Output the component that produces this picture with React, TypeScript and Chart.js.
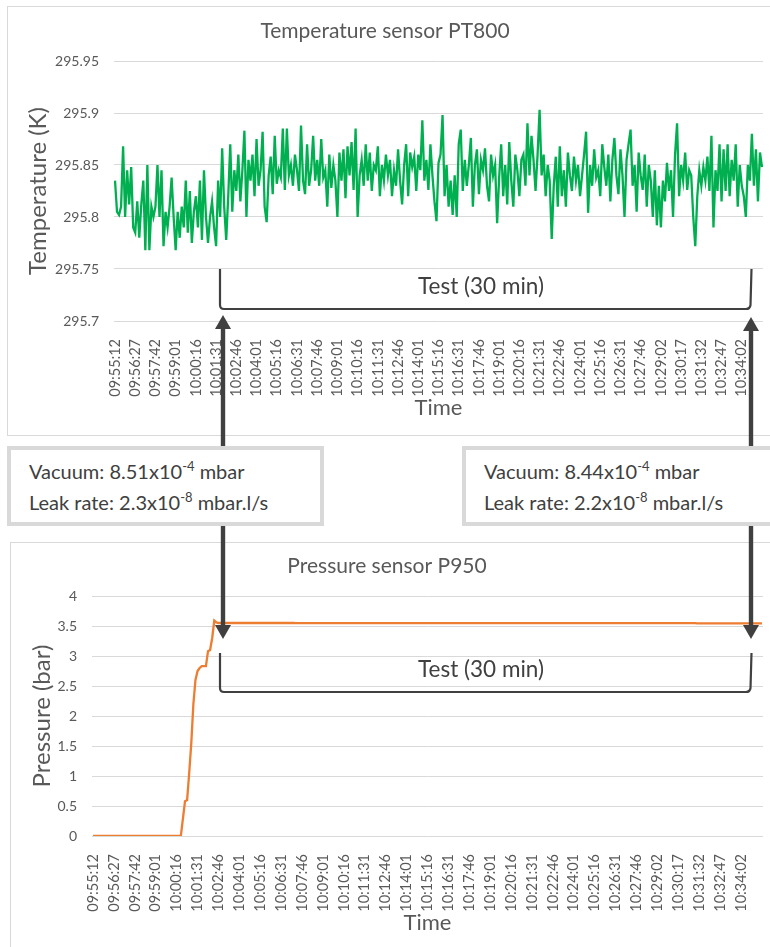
import React, { useEffect, useRef } from "react";
import { Chart, registerables } from "chart.js";

Chart.register(...registerables);

// ---------------- DATA ----------------
const timeLabels = [
  "09:55:12", "09:56:27", "09:57:42", "09:59:01", "10:00:16", "10:01:31", "10:02:46", "10:04:01",
  "10:05:16", "10:06:31", "10:07:46", "10:09:01", "10:10:16", "10:11:31", "10:12:46", "10:14:01",
  "10:15:16", "10:16:31", "10:17:46", "10:19:01", "10:20:16", "10:21:31", "10:22:46", "10:24:01",
  "10:25:16", "10:26:31", "10:27:46", "10:29:02", "10:30:17", "10:31:32", "10:32:47", "10:34:02",
];
const samplesPerLabel = 10;

const temperatureK = [
  295.835, 295.805, 295.802, 295.81, 295.868, 295.80, 295.845, 295.812, 295.848, 295.79,
  295.785, 295.815, 295.78, 295.812, 295.835, 295.768, 295.85, 295.768, 295.81, 295.80,
  295.81, 295.85, 295.80, 295.845, 295.772, 295.805, 295.79, 295.81, 295.838, 295.80,
  295.768, 295.805, 295.78, 295.81, 295.79, 295.835, 295.785, 295.825, 295.775, 295.805,
  295.82, 295.79, 295.835, 295.778, 295.845, 295.80, 295.775, 295.80, 295.815, 295.79,
  295.772, 295.835, 295.80, 295.866, 295.81, 295.778, 295.82, 295.87, 295.805, 295.845,
  295.825, 295.86, 295.815, 295.845, 295.883, 295.80, 295.855, 295.835, 295.86, 295.82,
  295.875, 295.83, 295.845, 295.882, 295.81, 295.795, 295.84, 295.858, 295.822, 295.878,
  295.832, 295.845, 295.838, 295.885, 295.826, 295.885, 295.84, 295.85, 295.83, 295.86,
  295.845, 295.825, 295.888, 295.835, 295.822, 295.87, 295.83, 295.845, 295.878, 295.835,
  295.855, 295.83, 295.875, 295.838, 295.845, 295.81, 295.86, 295.828, 295.85, 295.835,
  295.80, 295.862, 295.835, 295.865, 295.818, 295.868, 295.84, 295.872, 295.826, 295.885,
  295.80, 295.84, 295.855, 295.83, 295.87, 295.835, 295.862, 295.825, 295.85, 295.845,
  295.868, 295.82, 295.85, 295.835, 295.86, 295.84, 295.855, 295.82, 295.845, 295.83,
  295.865, 295.835, 295.812, 295.85, 295.87, 295.82, 295.862, 295.848, 295.858, 295.825,
  295.86, 295.845, 295.893, 295.835, 295.855, 295.826, 295.87, 295.84, 295.815, 295.796,
  295.852, 295.86, 295.898, 295.82, 295.85, 295.81, 295.835, 295.802, 295.84, 295.80,
  295.87, 295.884, 295.825, 295.855, 295.83, 295.85, 295.876, 295.81, 295.85, 295.865,
  295.822, 295.855, 295.845, 295.866, 295.83, 295.815, 295.86, 295.84, 295.85, 295.794,
  295.838, 295.87, 295.82, 295.85, 295.812, 295.872, 295.835, 295.81, 295.86, 295.845,
  295.82, 295.855, 295.86, 295.83, 295.89, 295.84, 295.878, 295.855, 295.825, 295.86,
  295.903, 295.84, 295.86, 295.82, 295.85, 295.835, 295.779, 295.83, 295.858, 295.81,
  295.868, 295.82, 295.845, 295.81, 295.862, 295.84, 295.825, 295.858, 295.835, 295.85,
  295.82, 295.84, 295.86, 295.882, 295.804, 295.85, 295.83, 295.865, 295.838, 295.845,
  295.82, 295.87, 295.848, 295.83, 295.86, 295.815, 295.855, 295.876, 295.84, 295.822,
  295.865, 295.84, 295.80, 295.855, 295.87, 295.884, 295.83, 295.85, 295.805, 295.862,
  295.84, 295.826, 295.86, 295.81, 295.85, 295.835, 295.80, 295.845, 295.792, 295.83,
  295.79, 295.835, 295.815, 295.852, 295.825, 295.845, 295.80, 295.86, 295.89, 295.82,
  295.85, 295.835, 295.862, 295.826, 295.845, 295.84, 295.80, 295.772, 295.82, 295.845,
  295.83, 295.848, 295.835, 295.858, 295.825, 295.878, 295.79, 295.845, 295.825, 295.87,
  295.815, 295.865, 295.825, 295.87, 295.82, 295.855, 295.835, 295.87, 295.81, 295.85,
  295.83, 295.82, 295.80, 295.85, 295.835, 295.88, 295.83, 295.865, 295.815, 295.862, 295.848,
];
const temperatureTicks = [295.7, 295.75, 295.8, 295.85, 295.9, 295.95];

// pressure: sample index -> value (flat stretches given by their end samples)
const pressureSample = [0, 42, 44, 45, 46, 47, 48, 49, 50, 51, 52, 54, 55, 56, 57, 58, 59, 60, 96, 97, 288, 289, 320];
const pressureBar = [0, 0, 0.58, 0.6, 1.05, 1.55, 2.2, 2.6, 2.75, 2.8, 2.83, 2.83, 3.08, 3.1, 3.3, 3.59, 3.56, 3.55, 3.55, 3.548, 3.548, 3.545, 3.545];
const pressureTicks = [0, 0.5, 1, 1.5, 2, 2.5, 3, 3.5, 4];

// ---------------- STYLE ----------------
const FONT = "Lato, 'Open Sans', sans-serif";
const TXT = "#595959";
const DARK = "#404040";
const GRID = "#d9d9d9";

type ChartSpec = {
  title: string;
  yTitle: string;
  yMin: number;
  yMax: number;
  yTicks: number[];
  yWidth: number;
  xHeight: number;
  padBottom: number;
  titlePad: { top: number; bottom: number };
  data: { x: number; y: number }[];
  color: string;
  width: number;
  height: number;
};

function LineChart({ spec }: { spec: ChartSpec }) {
  const ref = useRef<HTMLCanvasElement | null>(null);
  useEffect(() => {
    if (!ref.current) return;
    const lastIdx = timeLabels.length * samplesPerLabel;
    const chart = new Chart(ref.current, {
      type: "line",
      data: {
        datasets: [
          {
            data: spec.data,
            borderColor: spec.color,
            borderWidth: 2.3,
            pointRadius: 0,
            tension: 0,
            fill: false,
          },
        ],
      },
      options: {
        animation: false,
        responsive: false,
        maintainAspectRatio: false,
        devicePixelRatio: 1,
        events: [],
        layout: { padding: { left: 0, right: 7, top: 0, bottom: spec.padBottom } },
        plugins: {
          legend: { display: false },
          tooltip: { enabled: false },
          title: {
            display: true,
            text: spec.title,
            color: TXT,
            font: { family: FONT, size: 21, weight: "normal" },
            padding: spec.titlePad,
          },
        },
        scales: {
          x: {
            type: "linear",
            min: -0.5,
            max: lastIdx + 0.5,
            grid: { display: false },
            border: { display: false },
            afterBuildTicks: (s: any) => {
              s.ticks = timeLabels.map((_, k) => ({ value: k * samplesPerLabel }));
            },
            afterFit: (s: any) => {
              s.height = spec.xHeight;
            },
            ticks: {
              autoSkip: false,
              minRotation: 90,
              maxRotation: 90,
              padding: 10,
              color: TXT,
              font: { family: FONT, size: 14.5 },
              callback: (v: any) => timeLabels[Math.round(Number(v) / samplesPerLabel)] ?? "",
            },
            title: {
              display: true,
              text: "Time",
              color: TXT,
              font: { family: FONT, size: 22 },
              padding: { top: 0, bottom: 0 },
            },
          },
          y: {
            type: "linear",
            min: spec.yMin,
            max: spec.yMax,
            afterBuildTicks: (s: any) => {
              s.ticks = spec.yTicks.map((v) => ({ value: v }));
            },
            afterFit: (s: any) => {
              s.width = spec.yWidth;
            },
            grid: { color: GRID, lineWidth: 1, drawTicks: false },
            border: { display: false },
            ticks: {
              padding: 15,
              color: TXT,
              font: { family: FONT, size: 14 },
              callback: (v: any) => String(Number(Number(v).toFixed(3))),
            },
            title: {
              display: true,
              text: spec.yTitle,
              color: TXT,
              font: { family: FONT, size: 24 },
              padding: { top: 17, bottom: 0 },
            },
          },
        },
      } as any,
    });
    return () => chart.destroy();
  }, [spec]);
  return (
    <canvas
      ref={ref}
      width={spec.width}
      height={spec.height}
      style={{ display: "block", width: spec.width, height: spec.height }}
    />
  );
}

const tempSpec: ChartSpec = {
  title: "Temperature sensor PT800",
  yTitle: "Temperature (K)",
  yMin: 295.7,
  yMax: 295.95,
  yTicks: temperatureTicks,
  yWidth: 107,
  xHeight: 100,
  padBottom: 15,
  titlePad: { top: 12.4, bottom: 17.4 },
  data: temperatureK.map((y, i) => ({ x: i, y })),
  color: "#00b050",
  width: 763,
  height: 430,
};

const pressSpec: ChartSpec = {
  title: "Pressure sensor P950",
  yTitle: "Pressure (bar)",
  yMin: 0,
  yMax: 4,
  yTicks: pressureTicks,
  yWidth: 81,
  xHeight: 100,
  padBottom: 11,
  titlePad: { top: 11.4, bottom: 17.4 },
  data: pressureSample.map((x, i) => ({ x, y: pressureBar[i] })),
  color: "#ed7d31",
  width: 759,
  height: 405,
};

function InfoBox({ left, width, vac, leak }: { left: number; width: number; vac: string; leak: string }) {
  const sup: React.CSSProperties = { fontSize: 13, position: "relative", top: -8 };
  return (
    <div
      style={{
        position: "absolute",
        left,
        top: 446,
        width,
        height: 80,
        boxSizing: "border-box",
        border: "4px solid #d9d9d9",
        background: "#fff",
        fontFamily: FONT,
        fontSize: 20,
        color: DARK,
        lineHeight: "28px",
        paddingLeft: 18,
        paddingTop: 7,
        whiteSpace: "nowrap",
      }}
    >
      <div>
        Vacuum: {vac}x10<span style={sup}>-4</span> mbar
      </div>
      <div>
        Leak rate: {leak}x10<span style={sup}>-8</span> mbar.l/s
      </div>
    </div>
  );
}

function Bracket({ top, bottom }: { top: number; bottom: number }) {
  const d = `M 220 ${top} L 220 ${bottom - 4} Q 220 ${bottom} 224 ${bottom} L 746 ${bottom} Q 750 ${bottom} 750.5 ${bottom - 4} L 751.5 ${top}`;
  return (
    <>
      <path d={d} fill="none" stroke={DARK} strokeWidth={2.2} />
      <text
        x={481}
        y={(top + bottom) / 2 - 4}
        textAnchor="middle"
        dominantBaseline="central"
        fontFamily={FONT}
        fontSize={22.5}
        fill={DARK}
      >
        Test (30 min)
      </text>
    </>
  );
}

function Arrow({ x, y1, y2, up }: { x: number; y1: number; y2: number; up: boolean }) {
  const head = 14;
  const hw = 8;
  if (up) {
    return (
      <>
        <polygon points={`${x},${y1} ${x - hw},${y1 + head} ${x + hw},${y1 + head}`} fill={DARK} />
        <rect x={x - 2.2} y={y1 + head - 1} width={4.4} height={y2 - y1 - head + 1} fill={DARK} />
      </>
    );
  }
  return (
    <>
      <rect x={x - 2.2} y={y1} width={4.4} height={y2 - y1 - head + 1} fill={DARK} />
      <polygon points={`${x},${y2} ${x - hw},${y2 - head} ${x + hw},${y2 - head}`} fill={DARK} />
    </>
  );
}

export default function App() {
  return (
    <div
      style={{
        position: "absolute",
        left: 0,
        top: 0,
        width: 770,
        height: 947,
        overflow: "hidden",
        background: "#fff",
      }}
    >
      <div
        style={{
          position: "absolute",
          left: 7,
          top: 6,
          width: 800,
          height: 430,
          boxSizing: "border-box",
          border: "1.5px solid #d9d9d9",
        }}
      />
      <div style={{ position: "absolute", left: 7, top: 6 }}>
        <LineChart spec={tempSpec} />
      </div>

      <div
        style={{
          position: "absolute",
          left: 10,
          top: 542,
          width: 800,
          height: 430,
          boxSizing: "border-box",
          border: "1.5px solid #d9d9d9",
        }}
      />
      <div style={{ position: "absolute", left: 11, top: 542 }}>
        <LineChart spec={pressSpec} />
      </div>

      <svg
        width={770}
        height={947}
        style={{ position: "absolute", left: 0, top: 0, pointerEvents: "none" }}
      >
        <Bracket top={269} bottom={309} />
        <Bracket top={653} bottom={692} />
        <Arrow x={223} y1={315} y2={446} up={true} />
        <Arrow x={223} y1={525} y2={639} up={false} />
        <Arrow x={751} y1={317} y2={446} up={true} />
        <Arrow x={751} y1={525} y2={639} up={false} />
      </svg>

      <InfoBox left={7} width={317} vac="8.51" leak="2.3" />
      <InfoBox left={462} width={340} vac="8.44" leak="2.2" />
    </div>
  );
}
